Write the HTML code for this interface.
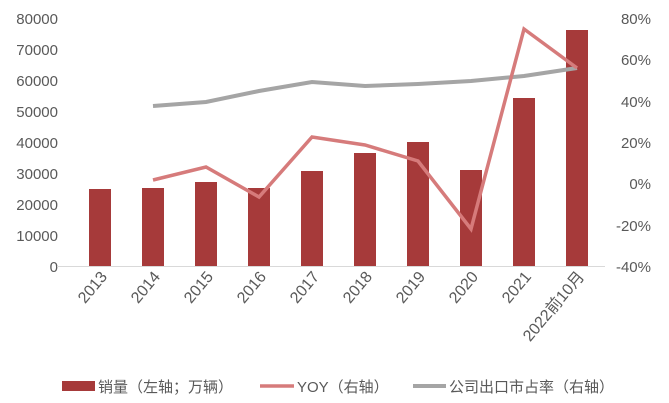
<!DOCTYPE html><html><head><meta charset="utf-8"><style>body{margin:0;background:#fff}svg{display:block}text{font-family:"Liberation Sans","Noto Sans CJK SC",sans-serif;fill:#595959}</style></head><body>
<svg width="669" height="403" viewBox="0 0 669 403">
<g font-size="15" text-anchor="end">
<text x="58" y="24">80000</text><text x="58" y="55">70000</text><text x="58" y="86">60000</text><text x="58" y="117">50000</text><text x="58" y="148">40000</text><text x="58" y="179">30000</text><text x="58" y="210">20000</text><text x="58" y="241">10000</text><text x="58" y="272">0</text>
</g>
<g font-size="15" text-anchor="end">
<text x="651" y="24">80%</text><text x="651" y="65">60%</text><text x="651" y="107">40%</text><text x="651" y="148">20%</text><text x="651" y="189">0%</text><text x="651" y="231">-20%</text><text x="651" y="272">-40%</text>
</g>
<g fill="#a63a3a">
<rect x="89" y="189" width="22" height="77"/><rect x="142" y="188" width="22" height="78"/><rect x="195" y="182" width="22" height="84"/><rect x="248" y="188" width="22" height="78"/><rect x="301" y="171" width="22" height="95"/><rect x="354" y="153" width="22" height="113"/><rect x="407" y="142" width="22" height="124"/><rect x="460" y="170" width="22" height="96"/><rect x="513" y="98" width="22" height="168"/><rect x="566" y="30" width="22" height="236"/>
</g>
<line x1="57" y1="266.5" x2="605" y2="266.5" stroke="#d9d9d9" stroke-width="1"/>
<polyline points="153,106 206,102 259,91 312,82 365,86 418,84 471,81 524,76 577,68" fill="none" stroke="#a5a5a5" stroke-width="4"/>
<polyline points="153,180 206,167 259,197 312,137 365,145 418,161 471,229 524,29 577,68" fill="none" stroke="#d67b7b" stroke-width="3.5"/>
<g font-size="16" text-anchor="end">
<text transform="translate(108,277) rotate(-50)">2013</text><text transform="translate(161,277) rotate(-50)">2014</text><text transform="translate(214,277) rotate(-50)">2015</text><text transform="translate(267,277) rotate(-50)">2016</text><text transform="translate(320,277) rotate(-50)">2017</text><text transform="translate(373,277) rotate(-50)">2018</text><text transform="translate(426,277) rotate(-50)">2019</text><text transform="translate(479,277) rotate(-50)">2020</text><text transform="translate(532,277) rotate(-50)">2021</text><text transform="translate(585,277) rotate(-50)">2022前10月</text>
</g>
<rect x="62" y="381" width="33" height="10" fill="#a63a3a"/>
<line x1="260" y1="386" x2="294" y2="386" stroke="#d67b7b" stroke-width="3.5"/>
<line x1="413" y1="386" x2="446" y2="386" stroke="#a5a5a5" stroke-width="4"/>
<g font-size="15"><text x="98" y="392">销量（左轴；万辆）</text><text x="297" y="392">YOY（右轴）</text><text x="449" y="392">公司出口市占率（右轴）</text></g>
</svg></body></html>
